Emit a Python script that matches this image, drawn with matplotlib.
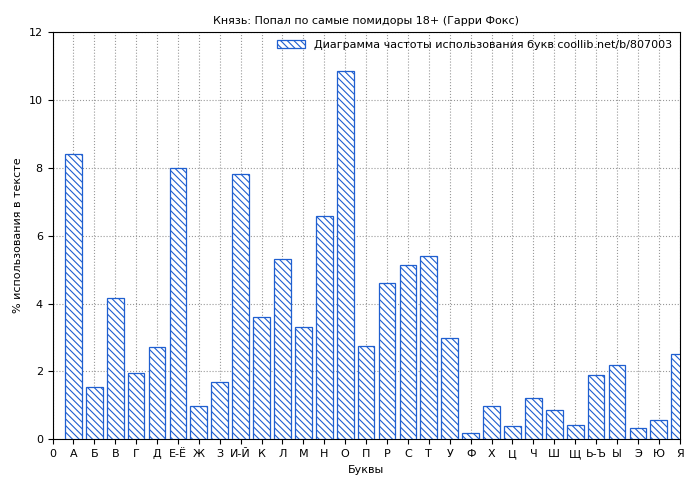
import matplotlib
matplotlib.use("Agg")
import matplotlib.pyplot as plt

labels = ["0","А","Б","В","Г","Д","Е-Ё","Ж","З","И-Й","К","Л","М","Н","О","П","Р","С","Т","У","Ф","Х","Ц","Ч","Ш","Щ","Ь-Ъ","Ы","Э","Ю","Я"]
values = [0, 8.41, 1.55, 4.16, 1.95, 2.71, 8.0, 0.97, 1.7, 7.82, 3.6, 5.31, 3.3, 6.58, 10.86, 2.74, 4.6, 5.13, 5.4, 2.98, 0.18, 0.97, 0.38, 1.21, 0.86, 0.41, 1.89, 2.18, 0.32, 0.56, 2.51]

plt.rcParams['hatch.color'] = '#1f5fd0'
plt.rcParams['hatch.linewidth'] = 0.8
fig = plt.figure(figsize=(7, 4.8), dpi=100)
ax = fig.add_axes([0.075, 0.085, 0.896, 0.848])
x = list(range(len(labels)))
ax.bar(x[1:], values[1:], width=0.8, facecolor='white', edgecolor='#1f5fd0', hatch='\\\\\\\\\\', linewidth=0.9,
       label='Диаграмма частоты использования букв coollib.net/b/807003', zorder=3)
ax.set_xlim(0, 30)
ax.set_ylim(0, 12)
ax.set_xticks(x)
ax.set_xticklabels(labels, fontsize=8)
ax.set_yticks(range(0, 13, 2))
ax.tick_params(axis='y', labelsize=8)
ax.grid(True, linestyle=':', color='#999999', linewidth=0.8, zorder=0)
ax.set_xlabel('Буквы', fontsize=8)
ax.set_ylabel('% использования в тексте', fontsize=8)
ax.set_title('Князь: Попал по самые помидоры 18+ (Гарри Фокс)', fontsize=8)
leg = ax.legend(loc='upper right', fontsize=8, frameon=False, handlelength=2.5, borderaxespad=0.3)
fig.savefig('out.png')
